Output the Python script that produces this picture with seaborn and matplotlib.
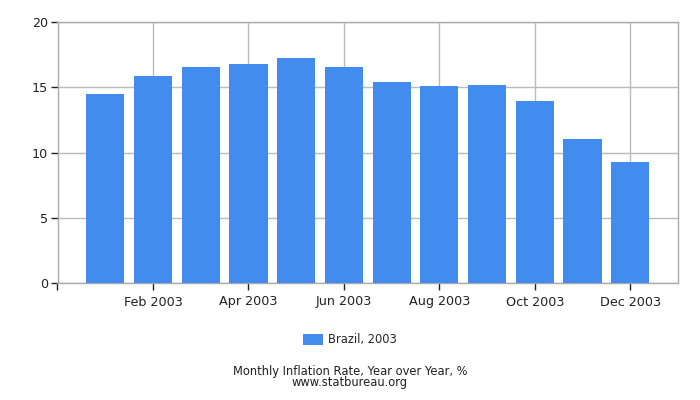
import matplotlib
matplotlib.use("Agg")
import matplotlib.pyplot as plt
import pandas as pd
import seaborn as sns

# ── DATA ───────────────────────────────────────────────────────────────────────
months = ["Jan 2003", "Feb 2003", "Mar 2003", "Apr 2003", "May 2003", "Jun 2003",
          "Jul 2003", "Aug 2003", "Sep 2003", "Oct 2003", "Nov 2003", "Dec 2003"]
inflation = [14.47, 15.85, 16.57, 16.77, 17.24, 16.57,
             15.43, 15.07, 15.14, 13.98, 11.02, 9.30]
series_label = "Brazil, 2003"
y_ticks = [0, 5, 10, 15, 20]

BAR_COLOR = "#428bef"
GRID_COLOR = "#bbbbbb"

df = pd.DataFrame({"month": months, "value": inflation})

sns.set_style("white")
plt.rcParams["font.family"] = ["DejaVu Sans"]

fig = plt.figure(figsize=(7, 4), dpi=100)
ax = fig.add_axes([57.5 / 700, 1 - 283 / 400, (678 - 57.5) / 700, (283 - 22) / 400])

sns.barplot(data=df, x="month", y="value", color=BAR_COLOR, saturation=1,
            width=0.8, ax=ax, label=series_label, zorder=3, linewidth=0)

ax.set_xlim(-1, 12)
ax.set_ylim(0, 20)
ax.set_yticks(y_ticks)
ax.set_yticklabels([str(v) for v in y_ticks], fontsize=9.2, color="#222222")

tick_pos = [-1] + list(range(1, 12, 2))
ax.set_xticks(tick_pos)
ax.set_xticklabels([""] + [months[i] for i in range(1, 12, 2)], fontsize=9.2, color="#222222")

ax.grid(True, color=GRID_COLOR, linewidth=1, zorder=0)
ax.set_axisbelow(True)
for s in ax.spines.values():
    s.set_color("#aaaaaa")
    s.set_linewidth(1)
ax.tick_params(axis="both", length=5, width=1, color="#222222", pad=2)
ax.tick_params(axis="x", direction="out", bottom=True, pad=4)
ax.tick_params(axis="y", direction="out", left=True)
ax.set_xlabel("")
ax.set_ylabel("")

handles, labels = ax.get_legend_handles_labels()
if ax.get_legend() is not None:
    ax.get_legend().remove()
fig.legend(handles, labels, loc="center", bbox_to_anchor=(0.5, 1 - 340 / 400),
           frameon=False, fontsize=8.3, handlelength=1.7, handleheight=1.1,
           handletextpad=0.4)

fig.text(0.5, 1 - 371 / 400, "Monthly Inflation Rate, Year over Year, %",
         ha="center", va="center", fontsize=8.3, color="#222222")
fig.text(0.5, 1 - 382.5 / 400, "www.statbureau.org",
         ha="center", va="center", fontsize=8.3, color="#222222")

fig.savefig("out.png", dpi=100)
